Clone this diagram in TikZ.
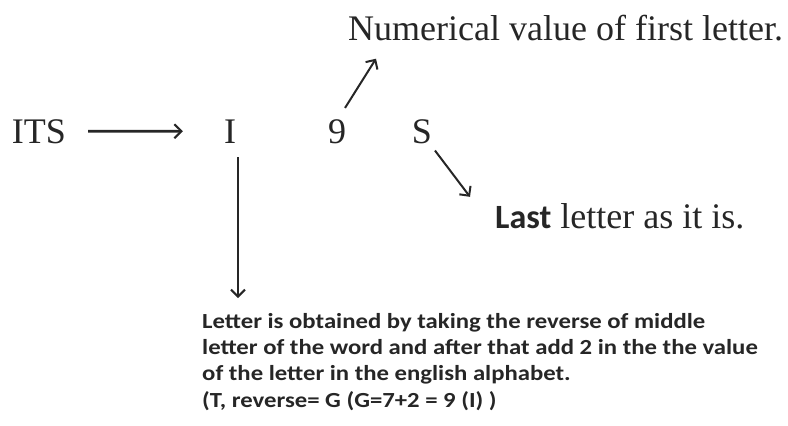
\documentclass[tikz,border=0pt]{standalone}
\usepackage{fontspec}
\setmainfont{Liberation Serif}
\newfontfamily\carl{Carlito}
\newfontfamily\carlw[FakeStretch=1.15]{Carlito}
\usetikzlibrary{arrows.meta}
\tikzset{
  big/.style={inner sep=0pt, font=\fontsize{36}{40}\selectfont, text=black!85},
  note/.style={inner sep=0pt, align=left, text=black!85, font=\carlw\bfseries\fontsize{21.5}{26.3}\selectfont},
  arr/.style={draw=black!85, line width=2pt, -{Straight Barb[length=7pt,width=14pt,line width=2pt]}},
  thickarr/.style={arr, line width=2.8pt}
}
\begin{document}
\begin{tikzpicture}[x=1pt,y=-1pt]
\useasboundingbox (0,0) rectangle (788,426);
\node[big, anchor=base] (its) at (39,143) {ITS};
\node[big, anchor=base] (i) at (230,143) {I};
\node[big, anchor=base] (nine) at (337,143) {9};
\node[big, anchor=base] (s) at (422,143) {S};
\node[big, anchor=base west] (num) at (348,40) {Numerical value of first letter.};
\node[big, anchor=base west] (last) at (495,228) {{\carl\bfseries\fontsize{34}{40}\selectfont Last} letter as it is.};
\node[note, anchor=north west] (txt) at (202,313) {Letter is obtained by taking the reverse of middle\\letter of the word and after that add 2 in the the value\\of the letter in the english alphabet.\\(T, reverse= G (G=7+2 = 9 (I) )};
\draw[thickarr, shorten <=22pt, shorten >=41pt] (its.east) -- (i.west);
\draw[arr] ([shift={(8,-11)}]nine.north) -- ([shift={(28,18)}]num.south west);
\draw[arr] ([shift={(13,7)}]s.south) -- ([shift={(-25,-6)}]last.north west);
\draw[arr, shorten <=14pt, shorten >=15pt] ([xshift=8pt]i.south) -- ([xshift=8pt]i.south |- txt.north);
\end{tikzpicture}
\end{document}
